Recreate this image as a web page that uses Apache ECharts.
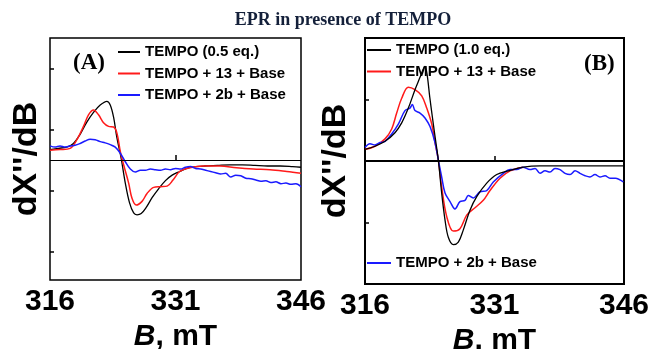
<!DOCTYPE html>
<html><head><meta charset="utf-8">
<script src="https://cdn.jsdelivr.net/npm/echarts@6/dist/echarts.min.js"></script>
<style>html,body{margin:0;padding:0;background:#fff}#c{width:654px;height:349px}</style>
</head><body><div id="c"></div><script>
const chartTitle = 'EPR in presence of TEMPO';
const panelLabels = ['(A)', '(B)'];
const xTicks = [316, 331, 346];
const yTicksA = [-1.5, -0.5, 0.5, 1.5];
const yTicksB = [-0.5, 0.5];
const namesA = ['TEMPO (0.5 eq.)', 'TEMPO + 13 + Base', 'TEMPO + 2b + Base'];
const namesB = ['TEMPO (1.0 eq.)', 'TEMPO + 13 + Base', 'TEMPO + 2b + Base'];

// Panel A
const fieldBlackA = [316.0,317.0,318.0,318.8,319.6,320.4,321.2,322.0,322.8,323.2,323.6,324.0,324.5,325.0,325.5,326.0,326.4,326.9,327.5,328.2,329.0,329.8,330.6,331.5,332.5,333.5,334.5,336.0,337.5,339.0,340.5,342.0,343.5,345.0,346.0];
const blackA = [0.17,0.19,0.21,0.27,0.42,0.62,0.78,0.90,0.96,0.90,0.70,0.36,0.03,-0.38,-0.70,-0.87,-0.90,-0.88,-0.78,-0.62,-0.47,-0.34,-0.25,-0.19,-0.13,-0.11,-0.10,-0.09,-0.08,-0.08,-0.09,-0.10,-0.10,-0.11,-0.12];
const fieldRedA = [316.0,317.2,318.4,319.2,320.0,320.6,321.2,321.8,322.4,323.0,323.6,324.0,324.4,324.8,325.4,325.8,326.3,327.0,327.6,328.4,329.2,330.0,330.7,331.5,332.7,334.3,336.3,338.3,340.3,342.3,344.3,346.0];
const redA = [0.16,0.17,0.19,0.33,0.55,0.74,0.82,0.74,0.61,0.55,0.54,0.44,0.14,-0.08,-0.38,-0.63,-0.74,-0.68,-0.55,-0.45,-0.44,-0.43,-0.33,-0.19,-0.13,-0.10,-0.10,-0.13,-0.15,-0.16,-0.19,-0.22];
const fieldBlueA = [316.0,316.6,317.2,317.8,318.4,319.0,319.6,320.2,320.8,321.4,322.0,322.6,323.2,323.8,324.4,325.0,325.6,326.2,326.8,327.4,328.0,328.6,329.2,329.8,330.4,331.0,331.6,332.2,332.8,333.4,334.0,334.6,335.2,335.8,336.4,337.0,337.6,338.2,338.8,339.4,340.0,340.6,341.2,341.8,342.4,343.0,343.6,344.2,344.8,345.4,346.0];
const blueA = [0.23,0.21,0.23,0.21,0.23,0.24,0.27,0.31,0.34,0.33,0.30,0.28,0.25,0.21,0.11,-0.03,-0.15,-0.20,-0.17,-0.17,-0.15,-0.16,-0.17,-0.15,-0.16,-0.14,-0.15,-0.12,-0.11,-0.14,-0.15,-0.17,-0.19,-0.21,-0.23,-0.22,-0.28,-0.25,-0.26,-0.30,-0.31,-0.33,-0.35,-0.34,-0.37,-0.36,-0.39,-0.38,-0.40,-0.39,-0.44];

// Panel B
const fieldBlackB = [316.0,317.16,318.32,319.47,320.25,321.02,321.79,322.37,322.7,322.95,323.2,323.5,323.8,324.11,324.49,324.88,325.27,325.65,326.23,326.81,327.39,328.16,328.94,330.10,331.26,332.60,334.34,336.27,338.0,340.09,342.0,344.0,346.0];
const blackB = [0.095,0.12,0.16,0.23,0.31,0.43,0.58,0.68,0.74,0.77,0.70,0.52,0.36,0.20,0.01,-0.26,-0.48,-0.62,-0.68,-0.66,-0.56,-0.40,-0.29,-0.18,-0.11,-0.08,-0.05,-0.04,-0.04,-0.04,-0.04,-0.04,-0.04];
const fieldRedB = [316.0,317.16,318.32,319.09,319.67,320.25,321.02,321.79,322.57,323.15,323.73,324.11,324.49,324.88,325.46,326.23,327.0,327.78,328.74,329.70,330.48,331.64,332.80,334.3];
const redB = [0.095,0.12,0.18,0.26,0.39,0.51,0.60,0.58,0.53,0.43,0.30,0.15,0.01,-0.21,-0.45,-0.57,-0.55,-0.44,-0.38,-0.32,-0.24,-0.14,-0.08,-0.05];
const fieldBlueB = [316.0,316.58,317.16,317.74,318.32,319.09,319.86,320.63,321.21,321.48,321.79,322.37,322.95,323.53,324.11,324.49,324.88,325.27,325.85,326.42,327.0,327.58,327.96,328.54,329.32,330.10,330.86,332.02,332.80,333.57,334.3,335.11,335.7,336.27,336.85,337.43,338.0,338.59,339.17,339.75,340.33,340.90,341.5,342.06,342.64,343.22,343.8,344.38,345.0,345.92];
const blueB = [0.11,0.14,0.13,0.15,0.16,0.22,0.30,0.41,0.43,0.46,0.41,0.39,0.35,0.28,0.15,0.01,-0.13,-0.26,-0.33,-0.39,-0.33,-0.32,-0.28,-0.30,-0.25,-0.24,-0.17,-0.10,-0.07,-0.07,-0.05,-0.07,-0.06,-0.10,-0.08,-0.09,-0.06,-0.07,-0.10,-0.11,-0.08,-0.10,-0.12,-0.13,-0.11,-0.13,-0.12,-0.14,-0.14,-0.17];

const zip = (xs, ys) => xs.map((x, i) => [x, ys[i]]);
const SANS = "'Liberation Sans', Arial, sans-serif";
const SERIF = "'Liberation Serif', 'Times New Roman', serif";
const BLACK = '#000000', RED = '#ff1a1a', BLUE = '#1a1aff';

function xAxisFor(grid) {
  return {
    gridIndex: grid, type: 'value', min: 316, max: 346, interval: 15,
    axisLine: { show: false },
    axisTick: { show: true, inside: true, length: 5, customValues: [331], lineStyle: { color: '#000', width: 1.5 } },
    axisLabel: { show: true, customValues: xTicks, margin: 7, color: '#000', fontFamily: SANS, fontWeight: 'bold', fontSize: 30 },
    splitLine: { show: false },
    name: '{i|B}{n|, mT}', nameLocation: 'middle', nameGap: grid === 0 ? 36 : 32,
    nameTextStyle: { rich: {
      i: { fontFamily: SANS, fontWeight: 'bold', fontStyle: 'italic', fontSize: 30, color: '#000' },
      n: { fontFamily: SANS, fontWeight: 'bold', fontSize: 30, color: '#000' }
    } }
  };
}
function yAxisFor(grid, min, max, ticks, gap) {
  return {
    gridIndex: grid, type: 'value', min: min, max: max,
    axisLine: { show: false },
    axisTick: { show: true, inside: true, length: 4, customValues: ticks, lineStyle: { color: '#000', width: 1.5 } },
    axisLabel: { show: false },
    splitLine: { show: false },
    name: "dX''/dB", nameLocation: 'middle', nameGap: gap,
    nameTextStyle: { fontFamily: SANS, fontWeight: 'bold', fontSize: 34, color: '#000' }
  };
}
function line(name, data, color, xi, width, extra) {
  return Object.assign({
    name: name, type: 'line', xAxisIndex: xi, yAxisIndex: xi, data: data,
    showSymbol: false, symbol: 'none', smooth: 0.35, silent: true,
    lineStyle: { color: color, width: width }, itemStyle: { color: color }
  }, extra || {});
}
function zeroLine(w) {
  return { silent: true, symbol: ['none', 'none'], label: { show: false },
    lineStyle: { color: '#000', width: w, type: 'solid' }, data: [{ yAxis: 0 }] };
}

const legendText = { fontFamily: SANS, fontWeight: 'bold', fontSize: 15, lineHeight: 15, color: '#000' };
const legendBase = { orient: 'vertical', padding: 0, icon: 'rect', itemHeight: 2, itemGap: 6.5, selectedMode: false, textStyle: legendText };
const chart = echarts.init(document.getElementById('c'), null, { renderer: 'canvas' });
chart.setOption({
  animation: false,
  backgroundColor: '#fff',
  title: { text: chartTitle, left: 338, top: 6, textAlign: 'center',
    textStyle: { fontFamily: SERIF, fontWeight: 'bold', fontSize: 18, color: '#14203a' } },
  grid: [
    { left: 50, width: 251, top: 38, height: 242, show: true, borderColor: '#000', borderWidth: 1.5, backgroundColor: 'transparent', outerBoundsMode: 'none' },
    { left: 365, width: 259, top: 38, height: 246, show: true, borderColor: '#000', borderWidth: 2, backgroundColor: 'transparent', outerBoundsMode: 'none' }
  ],
  xAxis: [xAxisFor(0), xAxisFor(1)],
  yAxis: [yAxisFor(0, -1.97, 2, yTicksA, 6), yAxisFor(1, -1, 1, yTicksB, 12)],
  legend: [
    Object.assign({}, legendBase, { left: 118, top: 44.5, itemWidth: 22, data: namesA }),
    Object.assign({}, legendBase, { left: 367, top: 42.5, itemWidth: 24, data: [namesB[0], namesB[1]] }),
    Object.assign({}, legendBase, { left: 367, top: 255.5, itemWidth: 24, data: [namesB[2]] })
  ],
  graphic: [
    { type: 'text', left: 73, top: 52, style: { text: panelLabels[0], font: "bold 23px " + SERIF, fill: '#000' } },
    { type: 'text', left: 584, top: 53, style: { text: panelLabels[1], font: "bold 23px " + SERIF, fill: '#000' } }
  ],
  series: [
    line(namesA[0], zip(fieldBlackA, blackA), BLACK, 0, 1.3, { markLine: zeroLine(1) }),
    line(namesA[1], zip(fieldRedA, redA), RED, 0, 1.5),
    line(namesA[2], zip(fieldBlueA, blueA), BLUE, 0, 1.5),
    line(namesB[1], zip(fieldRedB, redB), RED, 1, 1.5),
    line(namesB[2], zip(fieldBlueB, blueB), BLUE, 1, 1.5),
    line(namesB[0], zip(fieldBlackB, blackB), BLACK, 1, 1.3, { markLine: zeroLine(2) })
  ]
});
</script></body></html>
